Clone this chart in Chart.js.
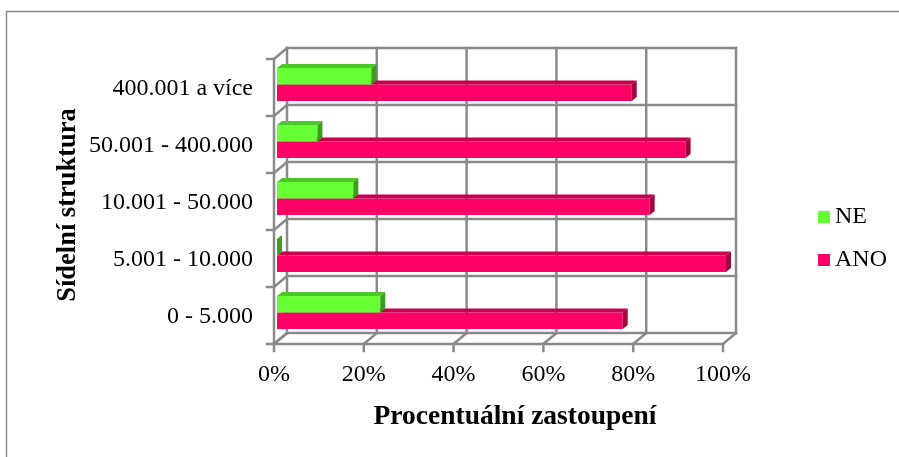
<!DOCTYPE html>
<html>
<head>
<meta charset="utf-8">
<script src="https://cdn.jsdelivr.net/npm/chart.js@4.4.0/dist/chart.umd.min.js"></script>
<style>
  html, body { margin: 0; padding: 0; background: #fff; }
  #wrap { width: 899px; height: 457px; }
</style>
</head>
<body>
<div id="wrap"><canvas id="myChart" width="899" height="457"></canvas></div>
<script>
const categories = ['400.001 a více', '50.001 - 400.000', '10.001 - 50.000', '5.001 - 10.000', '0 - 5.000'];
const ne = [21, 9, 17, 0, 23];
const ano = [79, 91, 83, 100, 77];
const percentTicks = [0, 20, 40, 60, 80, 100];
const xTitle = 'Procentuální zastoupení';
const yTitle = 'Sídelní struktura';

const FONT = '"Liberation Serif", "Times New Roman", serif';
const GRID = '#8a8a8a';
// offsets of the back wall and front edge relative to the bar plane
const BACK = { dx: 10, dy: -8 };
const FRONT = { dx: -3, dy: 3 };
const DEPTH = { dx: 5, dy: 4 };
const faces = [
  { front: '#66ff33', top: '#4cc72a', side: '#3c9e1e' },
  { front: '#ff0066', top: '#c7004f', side: '#a3003f' }
];

const box3d = {
  id: 'box3d',
  beforeDraw(chart) {
    const ctx = chart.ctx;
    ctx.save();
    ctx.strokeStyle = '#8c8c8c';
    ctx.lineWidth = 1.5;
    ctx.strokeRect(6.5, 11.5, 900, 460);
    ctx.restore();
  },
  beforeDatasetsDraw(chart) {
    const ctx = chart.ctx, x = chart.scales.x, y = chart.scales.y;
    const n = categories.length;
    ctx.save();
    ctx.strokeStyle = GRID;
    ctx.lineWidth = 2.5;
    ctx.lineCap = 'square';
    const line = (x1, y1, x2, y2) => { ctx.beginPath(); ctx.moveTo(x1, y1); ctx.lineTo(x2, y2); ctx.stroke(); };
    const yTop = y.getPixelForValue(-0.5), yBot = y.getPixelForValue(n - 0.5);
    const x0 = x.getPixelForValue(0), x1 = x.getPixelForValue(100);

    percentTicks.forEach(v => {
      const px = x.getPixelForValue(v) + BACK.dx;
      line(px, yTop + BACK.dy, px, yBot + BACK.dy);
    });
    for (let k = 0; k <= n; k++) {
      const py = y.getPixelForValue(k - 0.5);
      line(x0 + BACK.dx, py + BACK.dy, x1 + BACK.dx, py + BACK.dy);
      line(x0 + FRONT.dx, py + FRONT.dy, x0 + BACK.dx, py + BACK.dy);
      line(x0 + FRONT.dx - 7, py + FRONT.dy, x0 + FRONT.dx, py + FRONT.dy);
    }
    line(x0 + FRONT.dx, yTop + FRONT.dy, x0 + FRONT.dx, yBot + FRONT.dy);
    line(x0 + FRONT.dx, yBot + FRONT.dy, x1 + FRONT.dx, yBot + FRONT.dy);
    percentTicks.forEach(v => {
      const px = x.getPixelForValue(v);
      line(px + FRONT.dx, yBot + FRONT.dy, px + BACK.dx, yBot + BACK.dy);
      line(px + FRONT.dx, yBot + FRONT.dy, px + FRONT.dx, yBot + FRONT.dy + 7);
    });
    ctx.restore();
  },
  afterDatasetDraw(chart, args) {
    const ctx = chart.ctx;
    const col = faces[args.index];
    ctx.save();
    args.meta.data.forEach(bar => {
      const p = bar.getProps(['x', 'y', 'base', 'height'], true);
      const t = p.y - p.height / 2, b = p.y + p.height / 2;
      ctx.fillStyle = col.top;
      ctx.beginPath();
      ctx.moveTo(p.base, t);
      ctx.lineTo(p.base + DEPTH.dx, t - DEPTH.dy);
      ctx.lineTo(p.x + DEPTH.dx, t - DEPTH.dy);
      ctx.lineTo(p.x, t);
      ctx.closePath();
      ctx.fill();
      ctx.fillStyle = col.side;
      ctx.beginPath();
      ctx.moveTo(p.x, t);
      ctx.lineTo(p.x + DEPTH.dx, t - DEPTH.dy);
      ctx.lineTo(p.x + DEPTH.dx, b - DEPTH.dy);
      ctx.lineTo(p.x, b);
      ctx.closePath();
      ctx.fill();
    });
    ctx.restore();
  },
  afterDraw(chart) {
    const ctx = chart.ctx;
    ctx.save();
    ctx.fillStyle = '#000';
    ctx.textAlign = 'center';
    ctx.textBaseline = 'alphabetic';
    ctx.font = 'bold 27.5px ' + FONT;
    ctx.fillText(xTitle, 515, 424);
    ctx.font = 'bold 26.5px ' + FONT;
    ctx.translate(75, 205);
    ctx.rotate(-Math.PI / 2);
    ctx.fillText(yTitle, 0, 0);
    ctx.restore();

    // legend
    ctx.save();
    ctx.font = '24px ' + FONT;
    ctx.textAlign = 'left';
    ctx.textBaseline = 'middle';
    const rows = [217, 260];
    chart.data.datasets.forEach((ds, i) => {
      ctx.fillStyle = ds.backgroundColor;
      ctx.fillRect(818, rows[i] - 6, 12, 12);
      ctx.fillStyle = '#000';
      ctx.fillText(ds.label, 835, rows[i]);
    });
    ctx.restore();
  }
};

window.onload = function () {
  const ctx = document.getElementById('myChart');
  new Chart(ctx, {
    type: 'bar',
    data: {
      labels: categories,
      datasets: [
        { label: 'NE', data: ne, backgroundColor: faces[0].front, borderWidth: 0, categoryPercentage: 0.575, barPercentage: 1 },
        { label: 'ANO', data: ano, backgroundColor: faces[1].front, borderWidth: 0, categoryPercentage: 0.575, barPercentage: 1 }
      ]
    },
    options: {
      indexAxis: 'y',
      responsive: false,
      animation: false,
      layout: { padding: { left: 0, top: 56, right: 173, bottom: 0 } },
      plugins: { legend: { display: false }, tooltip: { enabled: false } },
      scales: {
        x: {
          min: 0,
          max: 100,
          afterFit(s) { s.height = 116; },
          grid: { display: false, drawTicks: false },
          border: { display: false },
          ticks: {
            stepSize: 20, padding: 19, labelOffset: -3, maxRotation: 0, autoSkip: false,
            color: '#000', font: { family: FONT, size: 24 },
            callback: v => v + '%'
          }
        },
        y: {
          afterFit(s) { s.width = 277; },
          grid: { display: false, drawTicks: false },
          border: { display: false },
          ticks: { padding: 24, labelOffset: 4, color: '#000', font: { family: FONT, size: 24 } }
        }
      }
    },
    plugins: [box3d]
  });
};
</script>
</body>
</html>
